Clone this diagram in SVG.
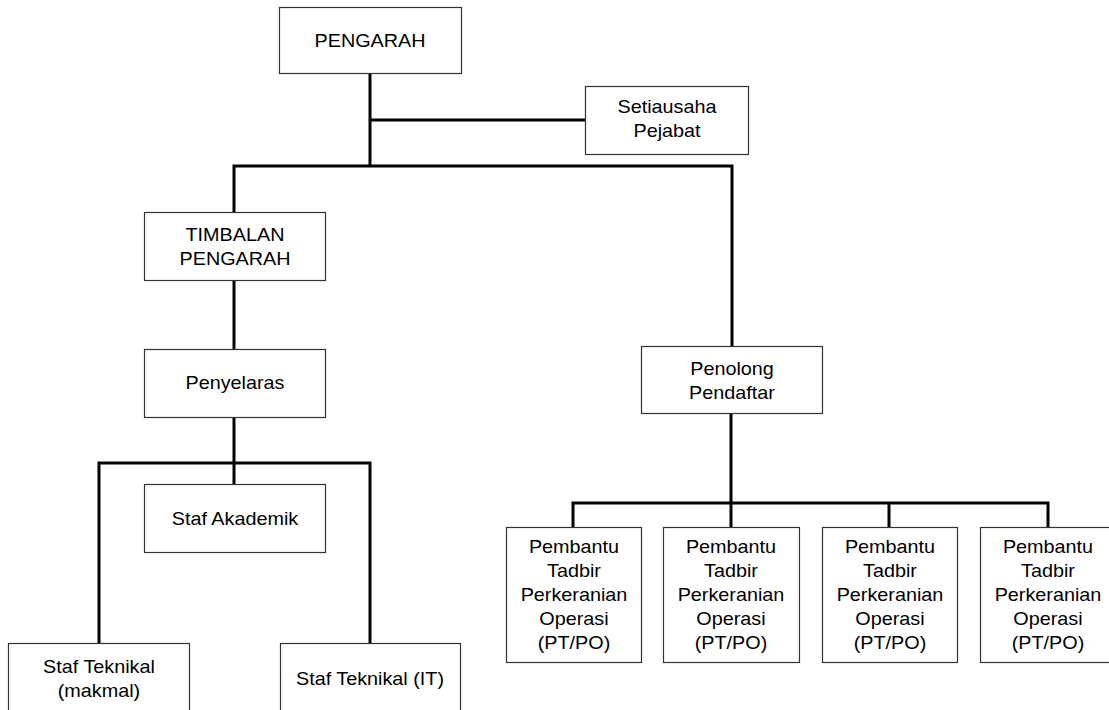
<svg xmlns="http://www.w3.org/2000/svg" width="1109" height="710" viewBox="0 0 1109 710">
  <style>
    .box { fill: #ffffff; stroke: #333333; stroke-width: 1.2; }
    .lbl { font-family: "Liberation Sans", Arial, sans-serif; font-size: 18px; fill: #000000; text-anchor: middle; }
    .conn { fill: none; stroke: #000000; stroke-width: 3; stroke-linecap: butt; stroke-linejoin: miter; }
  </style>
  <rect width="1109" height="710" fill="#ffffff"/>

  <!-- connectors -->
  <g id="connectors">
    <path class="conn" d="M370,73 V166"/>
    <path class="conn" d="M370,120 H585"/>
    <path class="conn" d="M234,212 V166 H732 V346"/>
    <path class="conn" d="M234,280 V349"/>
    <path class="conn" d="M234,417 V484"/>
    <path class="conn" d="M99,643 V463 H370 V643"/>
    <path class="conn" d="M731,413 V527"/>
    <path class="conn" d="M573,527 V503 H1048 V527"/>
    <path class="conn" d="M889,503 V527"/>
  </g>

  <!-- labels are set in a slightly widened sans face: translate to the anchor, then stretch horizontally -->
  <g id="pengarah">
    <rect class="box" x="279.5" y="7.5" width="182" height="66"/>
    <text class="lbl" transform="translate(370 47) scale(1.1 1)">PENGARAH</text>
  </g>

  <g id="setiausaha">
    <rect class="box" x="585.5" y="86.5" width="163" height="68"/>
    <text class="lbl" transform="translate(667 113) scale(1.1 1)">Setiausaha</text>
    <text class="lbl" transform="translate(667 137) scale(1.1 1)">Pejabat</text>
  </g>

  <g id="timbalan">
    <rect class="box" x="144.5" y="212.5" width="181" height="68"/>
    <text class="lbl" transform="translate(235 241) scale(1.1 1)">TIMBALAN</text>
    <text class="lbl" transform="translate(235 265) scale(1.1 1)">PENGARAH</text>
  </g>

  <g id="penyelaras">
    <rect class="box" x="144.5" y="349.5" width="181" height="68"/>
    <text class="lbl" transform="translate(235 389) scale(1.1 1)">Penyelaras</text>
  </g>

  <g id="staf-akademik">
    <rect class="box" x="144.5" y="484.5" width="181" height="68"/>
    <text class="lbl" transform="translate(235 525) scale(1.1 1)">Staf Akademik</text>
  </g>

  <g id="staf-teknikal-makmal">
    <rect class="box" x="8.5" y="643.5" width="181" height="80"/>
    <text class="lbl" transform="translate(99 673) scale(1.1 1)">Staf Teknikal</text>
    <text class="lbl" transform="translate(99 697) scale(1.1 1)">(makmal)</text>
  </g>

  <g id="staf-teknikal-it">
    <rect class="box" x="280.5" y="643.5" width="180" height="80"/>
    <text class="lbl" transform="translate(370 685) scale(1.1 1)">Staf Teknikal (IT)</text>
  </g>

  <g id="penolong-pendaftar">
    <rect class="box" x="641.5" y="346.5" width="181" height="67"/>
    <text class="lbl" transform="translate(732 375) scale(1.1 1)">Penolong</text>
    <text class="lbl" transform="translate(732 399) scale(1.1 1)">Pendaftar</text>
  </g>

  <g id="pt-po-1">
    <rect class="box" x="506.5" y="527.5" width="135" height="135"/>
    <text class="lbl" transform="translate(574 553) scale(1.1 1)">Pembantu</text>
    <text class="lbl" transform="translate(574 577) scale(1.1 1)">Tadbir</text>
    <text class="lbl" transform="translate(574 601) scale(1.1 1)">Perkeranian</text>
    <text class="lbl" transform="translate(574 625) scale(1.1 1)">Operasi</text>
    <text class="lbl" transform="translate(574 649) scale(1.1 1)">(PT/PO)</text>
  </g>

  <g id="pt-po-2">
    <rect class="box" x="663.5" y="527.5" width="136" height="135"/>
    <text class="lbl" transform="translate(731 553) scale(1.1 1)">Pembantu</text>
    <text class="lbl" transform="translate(731 577) scale(1.1 1)">Tadbir</text>
    <text class="lbl" transform="translate(731 601) scale(1.1 1)">Perkeranian</text>
    <text class="lbl" transform="translate(731 625) scale(1.1 1)">Operasi</text>
    <text class="lbl" transform="translate(731 649) scale(1.1 1)">(PT/PO)</text>
  </g>

  <g id="pt-po-3">
    <rect class="box" x="822.5" y="527.5" width="135" height="135"/>
    <text class="lbl" transform="translate(890 553) scale(1.1 1)">Pembantu</text>
    <text class="lbl" transform="translate(890 577) scale(1.1 1)">Tadbir</text>
    <text class="lbl" transform="translate(890 601) scale(1.1 1)">Perkeranian</text>
    <text class="lbl" transform="translate(890 625) scale(1.1 1)">Operasi</text>
    <text class="lbl" transform="translate(890 649) scale(1.1 1)">(PT/PO)</text>
  </g>

  <g id="pt-po-4">
    <rect class="box" x="980.5" y="527.5" width="136" height="135"/>
    <text class="lbl" transform="translate(1048 553) scale(1.1 1)">Pembantu</text>
    <text class="lbl" transform="translate(1048 577) scale(1.1 1)">Tadbir</text>
    <text class="lbl" transform="translate(1048 601) scale(1.1 1)">Perkeranian</text>
    <text class="lbl" transform="translate(1048 625) scale(1.1 1)">Operasi</text>
    <text class="lbl" transform="translate(1048 649) scale(1.1 1)">(PT/PO)</text>
  </g>
</svg>
